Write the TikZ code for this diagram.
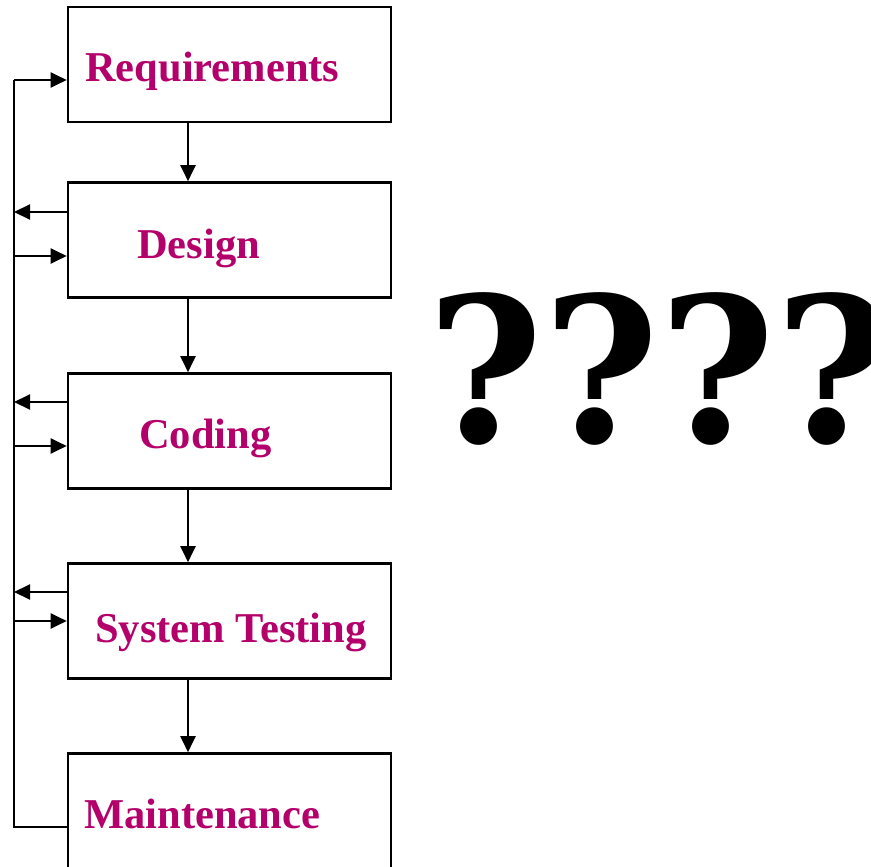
\documentclass[tikz,border=0pt]{standalone}
\usepackage{fontspec}
\setmainfont{Liberation Serif}
\newfontfamily\qfont{DejaVu Serif}
\usetikzlibrary{arrows.meta}
\definecolor{stagetext}{RGB}{180,0,106}
\tikzset{
  stagebox/.style={draw=black, line width=2.6pt, minimum width=323pt, minimum height=115pt, inner sep=0pt, fill=white},
  stagelabel/.style={anchor=base west, inner sep=0pt, text=stagetext, font=\fontsize{42.5}{42.5}\selectfont\bfseries},
  conn/.style={draw=black, line width=2pt},
  tip/.style={-{Triangle[length=16pt,width=15pt]}},
}
\begin{document}
\begin{tikzpicture}[x=1pt,y=-1pt]
\useasboundingbox (0,0) rectangle (871,867);
% boxes
\node[stagebox] (req) at (229.5,64.5) {};
\node[stagebox] (des) at (229.5,240) {};
\node[stagebox] (cod) at (229.5,431) {};
\node[stagebox] (sys) at (229.5,621) {};
\node[stagebox] (mai) at (229.5,811) {};
% labels
\node[stagelabel] (reqt) at (85,82) {Requirements};
\node[stagelabel] (dest) at (137,258) {Design};
\node[stagelabel] (codt) at (139,448) {Coding};
\node[stagelabel] (syst) at (95,642) {System Testing};
\node[stagelabel] (mait) at (84,828) {Maintenance};
% rail coordinates
\coordinate (r1) at (14,80);
\coordinate (d1) at (14,212);
\coordinate (d2) at (14,256);
\coordinate (c1) at (14,402);
\coordinate (c2) at (14,446);
\coordinate (s1) at (14,592);
\coordinate (s2) at (14,621);
\coordinate (m1) at (14,827);
% rail
\draw[conn] (mai.west |- m1) -- (m1) -- (r1);
\draw[conn,tip] (r1) -- (req.west |- r1);
\draw[conn,tip] (des.west |- d1) -- (d1);
\draw[conn,tip] (d2) -- (des.west |- d2);
\draw[conn,tip] (cod.west |- c1) -- (c1);
\draw[conn,tip] (c2) -- (cod.west |- c2);
\draw[conn,tip] (sys.west |- s1) -- (s1);
\draw[conn,tip] (s2) -- (sys.west |- s2);
% down arrows
\draw[conn,tip] (req.south -| 188,0) -- (des.north -| 188,0);
\draw[conn,tip] (des.south -| 188,0) -- (cod.north -| 188,0);
\draw[conn,tip] (cod.south -| 188,0) -- (sys.north -| 188,0);
\draw[conn,tip] (sys.south -| 188,0) -- (mai.north -| 188,0);
% question marks
\node[anchor=base west, inner sep=0pt, font=\fontsize{202}{202}\selectfont\qfont\bfseries] (qq) at (427,442) {\scalebox{0.98}[1]{????}};
\end{tikzpicture}
\end{document}
